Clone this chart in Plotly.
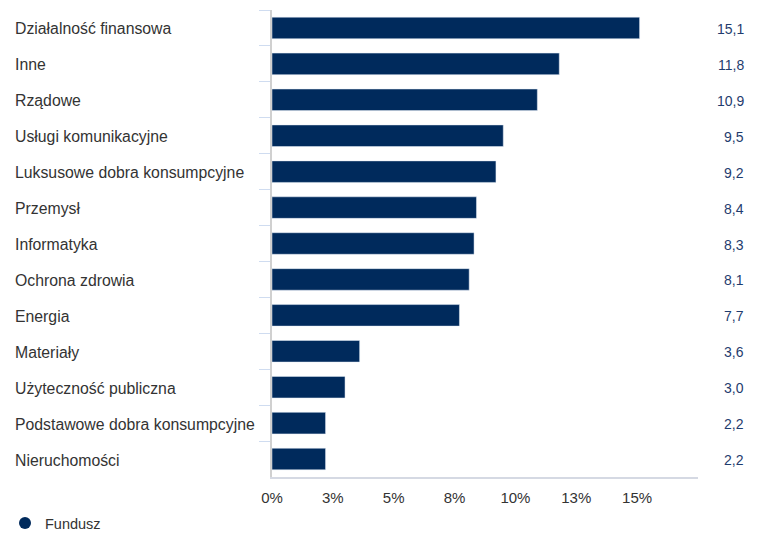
import plotly.graph_objects as go

categories = ["Działalność finansowa", "Inne", "Rządowe", "Usługi komunikacyjne",
              "Luksusowe dobra konsumpcyjne", "Przemysł", "Informatyka", "Ochrona zdrowia",
              "Energia", "Materiały", "Użyteczność publiczna", "Podstawowe dobra konsumpcyjne",
              "Nieruchomości"]
values = [15.1, 11.8, 10.9, 9.5, 9.2, 8.4, 8.3, 8.1, 7.7, 3.6, 3.0, 2.2, 2.2]
tick_vals = [0, 2.5, 5, 7.5, 10, 12.5, 15]
tick_text = ["0%", "3%", "5%", "8%", "10%", "13%", "15%"]
series_name = "Fundusz"

OFF = 8  # page body margin
W, H = 749, 526
L, T = 272 - OFF, 10 - OFF
R = W - (698 - OFF)
B = H - (477 - OFF)
pw = W - L - R
ph = H - T - B

bar_color = "#002a5c"
font = "Liberation Sans, Arial, sans-serif"

fig = go.Figure()
fig.add_trace(go.Bar(x=values, y=categories, orientation="h", marker_color=bar_color,
                     width=0.6, showlegend=False, hoverinfo="skip"))
fig.add_trace(go.Scatter(x=[None], y=[None], mode="markers", name=series_name,
                         marker=dict(symbol="circle", size=14, color=bar_color)))

ann = []
for c, v in zip(categories, values):
    ann.append(dict(xref="paper", yref="y", x=(14 - OFF - L) / pw, y=c, text=c, showarrow=False,
                    xanchor="left", yanchor="middle", xshift=-1, yshift=-1,
                    font=dict(size=15.8, color="#333333", family=font)))
    ann.append(dict(xref="paper", yref="y", x=(745 - OFF - L) / pw, y=c,
                    text=f"{v:.1f}".replace(".", ","), showarrow=False,
                    xanchor="right", yanchor="middle", xshift=1, yshift=-1,
                    font=dict(size=14, color="#1f3c6e", family=font)))

fig.update_layout(
    width=W, height=H, margin=dict(l=L, r=R, t=T, b=B, autoexpand=False),
    paper_bgcolor="white", plot_bgcolor="white",
    font=dict(family=font, size=14, color="#333333"),
    annotations=ann,
    legend=dict(orientation="h", x=(5 - OFF - L) / pw, y=-(523 - 477) / ph,
                xanchor="left", yanchor="middle",
                font=dict(size=14.5, color="#333333"), itemsizing="constant"),
    xaxis=dict(range=[0, 17.5], tickvals=tick_vals, ticktext=tick_text, showgrid=False,
               zeroline=False, showline=True, linecolor="#d5d9e3", linewidth=2,
               ticks="", ticklabelstandoff=6, tickfont=dict(size=15, color="#333333")),
    yaxis=dict(autorange="reversed", showticklabels=False, showgrid=False, zeroline=False,
               showline=True, linecolor="#d0d0d0", linewidth=2,
               ticks="outside", tickson="boundaries", ticklen=11, tickcolor="#cfdcf0", tickwidth=1),
)

fig.write_html("out.html")
